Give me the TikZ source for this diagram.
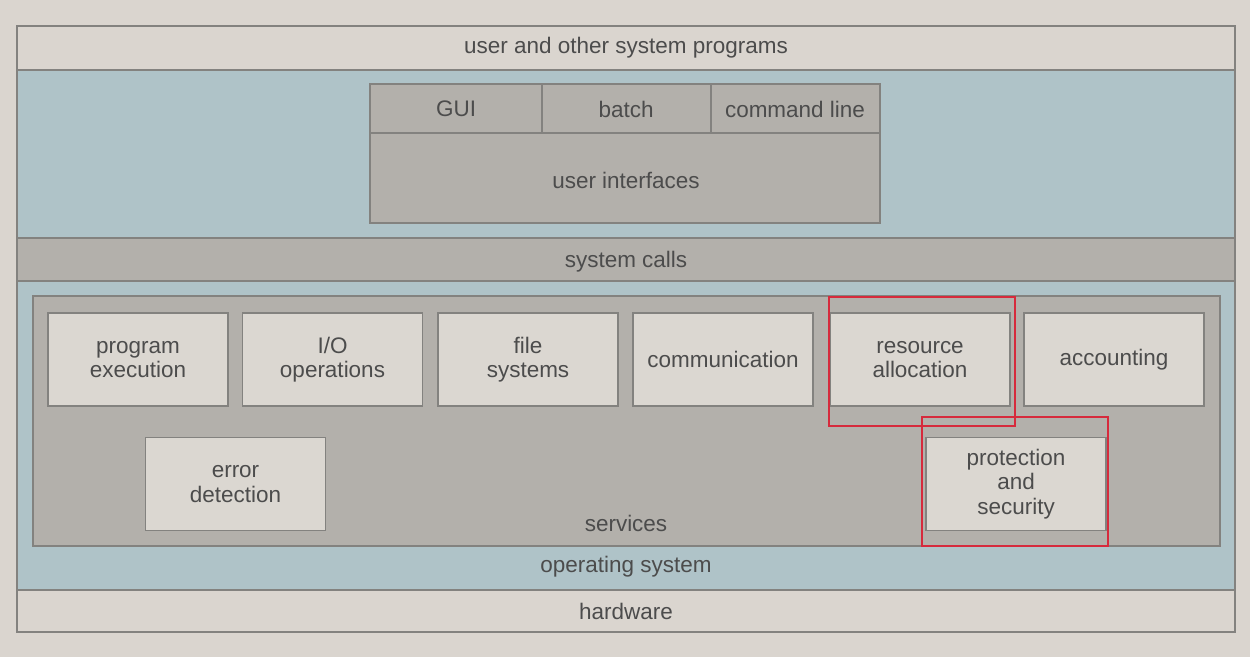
\documentclass[tikz,border=0pt]{standalone}
\usepackage{fontspec}
\setmainfont{Liberation Sans}
\usetikzlibrary{positioning}
\definecolor{bgbeige}{HTML}{DAD5CF}
\definecolor{osblue}{HTML}{AFC3C8}
\definecolor{layergray}{HTML}{B3B0AB}
\definecolor{boxlight}{HTML}{DBD7D1}
\definecolor{edgegray}{HTML}{83827F}
\definecolor{txtgray}{HTML}{4C4C4C}
\definecolor{markred}{HTML}{D62A3C}
\tikzset{
	layer/.style={draw=edgegray, line width=0.7pt},
	lbl/.style={text=txtgray, font=\fontsize{12.8}{14}\selectfont, align=center, inner sep=0pt},
	svc/.style={draw=edgegray, fill=boxlight, line width=0.7pt, minimum width=3.6cm, minimum height=1.86cm, lbl},
	redframe/.style={draw=markred, line width=1.4pt}
}

\begin{document}
\begin{tikzpicture}[x=0.02cm, y=-0.02cm]
			%%%%% START %%%%%
			
			\fill[bgbeige] (0, 0) rectangle (1250, 657);
			\useasboundingbox (0, 0) rectangle (1250, 657);
			
			% layers, top to bottom
			\draw[layer, fill=bgbeige] (17, 26) rectangle (1235, 70);
			\draw[layer, fill=osblue] (17, 70) rectangle (1235, 238);
			\draw[layer, fill=layergray] (17, 238) rectangle (1235, 281);
			\draw[layer, fill=osblue] (17, 281) rectangle (1235, 590);
			\draw[layer, fill=bgbeige] (17, 590) rectangle (1235, 632);
			
			\node[lbl] (userprog) at (626, 48) {user and other system programs};
			\node[lbl] (syscalls) at (626, 262) {system calls};
			\node[lbl] (opsys) at (626, 567) {operating system};
			\node[lbl] (hw) at (626, 611) {hardware};
			
			% user interfaces
			\draw[layer, fill=layergray] (370, 84) rectangle (880, 223);
			\draw[layer] (370, 133) -- (880, 133);
			\draw[layer] (542, 84) -- (542, 133);
			\draw[layer] (711, 84) -- (711, 133);
			\node[lbl] (gui) at (456, 109) {GUI};
			\node[lbl] (batch) at (626, 109) {batch};
			\node[lbl] (cmdline) at (795, 109) {command line};
			\node[lbl] (ui) at (626, 180) {user interfaces};
			
			% services
			\draw[layer, fill=layergray] (33, 296) rectangle (1220, 546);
			\node[lbl] (services) at (626, 523) {services};
			
			\node[svc] (progexec) at (138, 359.5) {program\\execution};
			\node[svc] (iops) at (332.5, 359.5) {I/O\\operations};
			\node[svc] (filesys) at (528, 359.5) {file\\systems};
			\node[svc] (comm) at (723, 359.5) {communication};
			\node[svc] (resalloc) at (920, 359.5) {resource\\allocation};
			\node[svc] (acct) at (1114, 359.5) {accounting};
			\node[svc] (errdet) at (235.5, 484) {error\\detection};
			\node[svc] (protsec) at (1016, 484) {protection\\and\\security};
			
			% highlights
			\draw[redframe] (829, 297) rectangle (1015, 426);
			\draw[redframe] (922, 417) rectangle (1108, 546);
			
			%%%%% END %%%%%
\end{tikzpicture}
\end{document}
